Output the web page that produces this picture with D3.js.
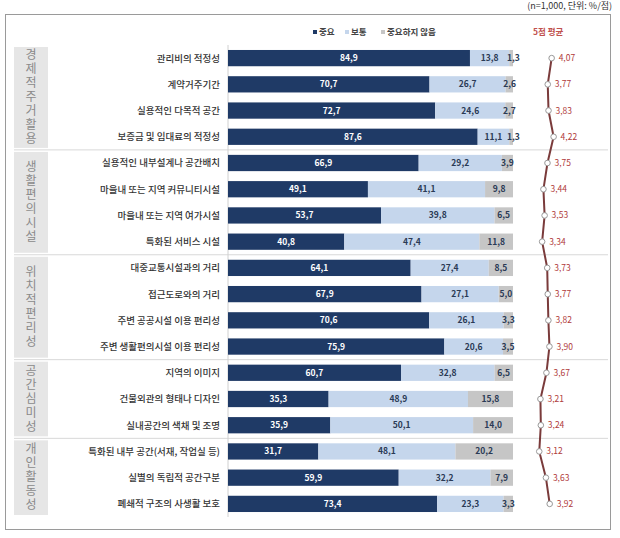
<!DOCTYPE html>
<html><head><meta charset="utf-8">
<script src="https://cdn.jsdelivr.net/npm/d3@7"></script>
<style>body{margin:0;background:#fff;} text{font-family:"Noto Sans CJK KR","Noto Sans",sans-serif;}</style>
</head><body>
<svg id="c" width="620" height="538"></svg>
<script>
const groups = ["경제적주거활용","생활편의시설","위치적편리성","공간심미성","개인활동성"];
const groupSizes = [4,4,4,3,3];
const items = ["관리비의 적정성","계약거주기간","실용적인 다목적 공간","보증금 및 임대료의 적정성",
 "실용적인 내부설계나 공간배치","마을내 또는 지역 커뮤니티시설","마을내 또는 지역 여가시설","특화된 서비스 시설",
 "대중교통시설과의 거리","접근도로와의 거리","주변 공공시설 이용 편리성","주변 생활편의시설 이용 편리성",
 "지역의 이미지","건물외관의 형태나 디자인","실내공간의 색채 및 조명",
 "특화된 내부 공간(서재, 작업실 등)","실별의 독립적 공간구분","폐쇄적 구조의 사생활 보호"];
const important = [84.9,70.7,72.7,87.6,66.9,49.1,53.7,40.8,64.1,67.9,70.6,75.9,60.7,35.3,35.9,31.7,59.9,73.4];
const normal    = [13.8,26.7,24.6,11.1,29.2,41.1,39.8,47.4,27.4,27.1,26.1,20.6,32.8,48.9,50.1,48.1,32.2,23.3];
const notImp    = [1.3,2.6,2.7,1.3,3.9,9.8,6.5,11.8,8.5,5.0,3.3,3.5,6.5,15.8,14.0,20.2,7.9,3.3];
const avg5      = [4.07,3.77,3.83,4.22,3.75,3.44,3.53,3.34,3.73,3.77,3.82,3.90,3.67,3.21,3.24,3.12,3.63,3.92];
const seriesNames = ["중요","보통","중요하지 않음"];
const colors = ["#1f3a66","#c5d6ec","#c6c6c6"];

const svg = d3.select("#c");
const fmt = v => d3.format(".1f")(v).replace(".", ",");
const fmt2 = v => d3.format(".2f")(v).replace(".", ",");

const y = d3.scaleBand().domain(d3.range(items.length)).range([45,517]).paddingInner(0.38).paddingOuter(0.19);
const step = y.step();
const x = d3.scaleLinear().domain([0,100]).range([228,513]);
const xa = d3.scaleLinear().domain([3.1,4.25]).range([539,554]);

// outer frame
svg.append("rect").attr("x",5.5).attr("y",14.5).attr("width",605).attr("height",515)
  .attr("fill","none").attr("stroke","#9a9a9a");
svg.append("text").attr("x",612).attr("y",9).attr("text-anchor","end").attr("font-size",9).attr("fill","#333")
  .text("(n=1,000, 단위: %/점)");

// legend
const legX = [313,345,381];
seriesNames.forEach((n,i)=>{
  svg.append("rect").attr("x",legX[i]).attr("y",30).attr("width",4).attr("height",4).attr("fill",colors[i]);
  svg.append("text").attr("x",legX[i]+6).attr("y",35).attr("font-size",8.5).attr("font-weight",700).attr("fill","#444").text(n);
});
svg.append("text").attr("x",533).attr("y",35).attr("font-size",8.5).attr("font-weight",700).attr("fill","#c0504d").text("5점 평균");

// group boxes & separators
let start = 0;
const y0 = y.range()[0];
groupSizes.forEach((s,gi)=>{
  const top = y0 + start*step, bot = y0 + (start+s)*step;
  svg.append("rect").attr("x",14).attr("y",top+2).attr("width",34).attr("height",bot-top-4).attr("fill","#e6e6e6");
  const mid = (top+bot)/2;
  svg.append("text").attr("x",31).attr("y",mid)
    .attr("text-anchor","middle").attr("font-size",12).attr("fill","#8a8a8a")
    .style("writing-mode","vertical-rl").style("letter-spacing","2px")
    .text(groups[gi]);
  if (gi>0) svg.append("line").attr("x1",14).attr("x2",608).attr("y1",top).attr("y2",top)
     .attr("stroke","#d8d8d8").attr("stroke-width",1);
  start += s;
});

// axis line
svg.append("line").attr("x1",228).attr("x2",228).attr("y1",45).attr("y2",517).attr("stroke","#d0d0d0");

// item labels
svg.selectAll(".lab").data(items).join("text").attr("class","lab")
  .attr("x",220).attr("y",(d,i)=>y(i)+y.bandwidth()/2+3.4).attr("text-anchor","end")
  .attr("font-size",9.5).attr("font-weight",500).attr("fill","#333").text(d=>d);

// stacked bars
const rows = items.map((d,i)=>({i, vals:[important[i],normal[i],notImp[i]]}));
const stack = d3.stack().keys([0,1,2]).value((d,k)=>d.vals[k])(rows);
stack.forEach((layer,k)=>{
  const g = svg.append("g");
  g.selectAll("rect").data(layer).join("rect")
    .attr("x",d=>x(d[0])).attr("y",d=>y(d.data.i)).attr("width",d=>x(d[1])-x(d[0]))
    .attr("height",y.bandwidth()).attr("fill",colors[k]);
  g.selectAll("text").data(layer).join("text")
    .attr("x",d=>{ const c=(x(d[0])+x(d[1]))/2; return k===2 && d.data.vals[2]<5 ? Math.max(c, x(d[0])+4) : c; })
    .attr("y",d=>y(d.data.i)+y.bandwidth()/2+3)
    .attr("text-anchor","middle").attr("font-size",8.5).attr("font-weight",700)
    .attr("fill",k===0?"#fff":"#2a3a55").text(d=>fmt(d.data.vals[k]));
});

// average line
const line = d3.line().x(d=>xa(d)).y((d,i)=>y(i)+y.bandwidth()/2);
svg.append("path").datum(avg5).attr("d",line).attr("fill","none").attr("stroke","#7a3b3b").attr("stroke-width",2);
svg.selectAll(".pt").data(avg5).join("circle").attr("class","pt")
  .attr("cx",d=>xa(d)).attr("cy",(d,i)=>y(i)+y.bandwidth()/2).attr("r",2.8)
  .attr("fill","#fff").attr("stroke","#999").attr("stroke-width",1);
svg.selectAll(".av").data(avg5).join("text").attr("class","av")
  .attr("x",d=>xa(d)+7).attr("y",(d,i)=>y(i)+y.bandwidth()/2+3)
  .attr("font-size",8.5).attr("fill","#b03a3a").text(d=>fmt2(d));
</script>
</body></html>
